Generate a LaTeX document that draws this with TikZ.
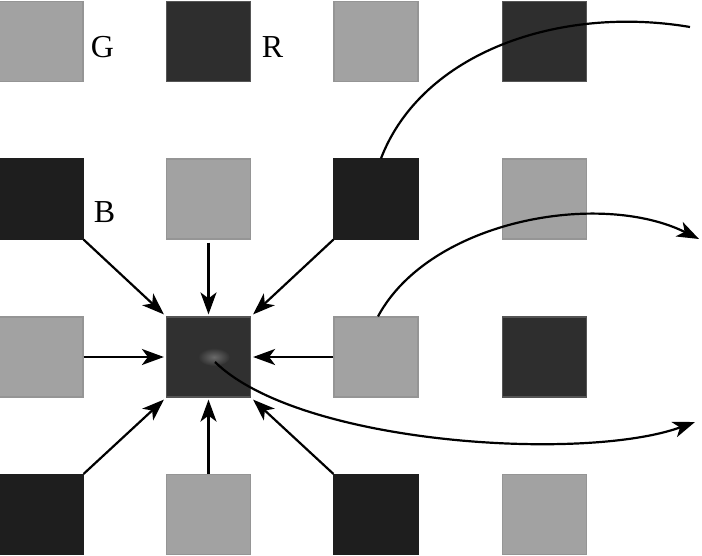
\documentclass[tikz,border=0pt]{standalone}
\usepackage{fontspec}
\setmainfont{Liberation Serif}
\usetikzlibrary{arrows.meta,calc}
\definecolor{gcol}{HTML}{A2A2A2}
\definecolor{gedge}{HTML}{959595}
\definecolor{rcol}{HTML}{2E2E2E}
\definecolor{bcol}{HTML}{1E1E1E}
\definecolor{ccol}{HTML}{303030}
\definecolor{dedge}{HTML}{555555}
\definecolor{hcol}{HTML}{6A6A6A}
\tikzset{
  sq/.style={rectangle, minimum width=84pt, minimum height=80pt, inner sep=0pt, line width=1.2pt},
  gsq/.style={sq, fill=gcol, draw=gedge},
  rsq/.style={sq, fill=rcol, draw=dedge},
  bsq/.style={sq, fill=bcol, draw=bcol},
  csq/.style={sq, fill=ccol, draw=dedge},
  lbl/.style={font=\fontsize{32}{36}\selectfont, inner sep=0pt},
  conn/.style={line width=2.2pt, -{Stealth[length=22pt,width=16pt,inset=6pt]}},
  curve/.style={line width=2.2pt}
}
\begin{document}
\begin{tikzpicture}[x=1pt,y=-1pt]
\useasboundingbox (0,0) rectangle (702,555);
\fill[white] (0,0) rectangle (702,555);
% row 1
\node[gsq] (s11) at (41,41.5) {};
\node[rsq] (s12) at (208.5,41.5) {};
\node[gsq] (s13) at (376,41.5) {};
\node[rsq] (s14) at (544.5,41.5) {};
% row 2
\node[bsq] (s21) at (41,199) {};
\node[gsq] (s22) at (208.5,199) {};
\node[bsq] (s23) at (376,199) {};
\node[gsq] (s24) at (544.5,199) {};
% row 3
\node[gsq] (s31) at (41,357) {};
\node[csq] (s32) at (208.5,357) {};
\node[gsq] (s33) at (376,357) {};
\node[rsq] (s34) at (544.5,357) {};
% row 4
\node[bsq] (s41) at (41,514.5) {};
\node[gsq] (s42) at (208.5,514.5) {};
\node[bsq] (s43) at (376,514.5) {};
\node[gsq] (s44) at (544.5,514.5) {};
% highlight in centre square
\shade[inner color=hcol, outer color=ccol] (214,357) ellipse (16pt and 9pt);
% labels
\node[lbl] (lg) at (102.5,47.5) {G};
\node[lbl] (lr) at (272.5,47.5) {R};
\node[lbl] (lb) at (104.5,212) {B};
% arrows into centre
\draw[conn] (s21.south east) -- ($(s32.north west)+(-2,-2)$);
\draw[conn] (s22.south) ++(0,3) -- ($(s32.north)+(0,-2)$);
\draw[conn] (s23.south west) -- ($(s32.north east)+(2,-2)$);
\draw[conn] (s31.east) -- ($(s32.west)+(-2,0)$);
\draw[conn] (s33.west) -- ($(s32.east)+(2,0)$);
\draw[conn] (s41.north east) -- ($(s32.south west)+(-2,2)$);
\draw[conn] (s42.north) -- ($(s32.south)+(0,2)$);
\draw[conn] (s43.north west) -- ($(s32.south east)+(2,2)$);
% outgoing curves
\coordinate (e1) at (690,27);
\coordinate (e2) at (699,239);
\coordinate (e3) at (695,422);
\coordinate (o3) at (215,362);
\draw[curve] ($(s23.north)+(5,0)$) .. controls (422,52) and (560,5) .. (e1);
\draw[conn] ($(s33.north)+(2,0)$) .. controls (430,220) and (600,190) .. (e2);
\draw[conn] (o3) .. controls (300,445) and (585,462) .. (e3);
\end{tikzpicture}
\end{document}
